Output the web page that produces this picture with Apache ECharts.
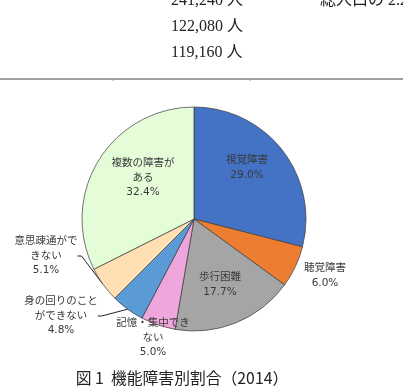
<!DOCTYPE html>
<html><head><meta charset="utf-8">
<style>html,body{margin:0;padding:0;background:#fff;}#c{width:403px;height:386px;}</style>
<script src="https://cdn.jsdelivr.net/npm/echarts@6/dist/echarts.min.js"></script>
</head><body><div id="c"></div>
<script>
// ---- data ----
const categories = ['視覚障害','聴覚障害','歩行困難','記憶・集中できない','身の回りのことができない','意思疎通ができない','複数の障害がある'];
const labelNames = ['視覚障害','聴覚障害','歩行困難','記憶・集中でき\nない','身の回りのこと\nができない','意思疎通がで\nきない','複数の障害が\nある'];
const shares = [29.0, 6.0, 17.7, 5.0, 4.8, 5.1, 32.4];
const tableCounts = ['241,240 人','122,080 人','119,160 人'];
const tableNote = '総人口の 2.2%';
const caption = '図 1  機能障害別割合（2014）';

// ---- styling / layout ----
const colors = ['#4472C4','#ED7D31','#A5A5A5','#EFA6DD','#5B9BD5','#FFE0B3','#E5FCD9'];
const labelPos = [[247,168],[325,276],[220,285],[153,338],[61,316],[46,256],[143,178]];
const outside = [false,true,false,true,true,true,false];
const showLine = [false,false,false,false,true,true,false];

const chart = echarts.init(document.getElementById('c'));
const data = categories.map((n,i)=>({
  name:n, value:shares[i],
  itemStyle:{color:colors[i]},
  label:{position: outside[i]?'outside':'inside', formatter: labelNames[i]+'\n'+shares[i].toFixed(1)+'%'},
  labelLine:{show:showLine[i]}
}));
const serif = '"Liberation Serif","Times New Roman","Noto Sans CJK JP",serif';
chart.setOption({
  animation:false,
  series:[{
    type:'pie', center:[194,219], radius:112, startAngle:90, clockwise:true,
    data:data,
    itemStyle:{borderColor:'#3a3a3a',borderWidth:0.7},
    label:{show:true,fontSize:10.5,lineHeight:14.5,color:'#3a3a3a',fontFamily:'"DejaVu Sans","Noto Sans CJK JP",sans-serif',align:'center'},
    labelLine:{length:6,length2:4,lineStyle:{color:'#222',width:1}},
    labelLayout:function(p){ const q=labelPos[p.dataIndex]; return {x:q[0],y:q[1],align:'center',verticalAlign:'middle'}; },
    emphasis:{disabled:true}
  }],
  graphic:[
    ...tableCounts.map((t,i)=>({type:'text',left:171,top:-7+i*26,style:{text:t,font:'16px '+serif,fill:'#222'}})),
    {type:'text',left:320,top:-7,style:{text:tableNote,font:'16px '+serif,fill:'#222'}},
    {type:'line',shape:{x1:0,y1:79,x2:403,y2:79},style:{stroke:'#808080',lineWidth:1.5}},
    {type:'line',shape:{x1:113,y1:79,x2:113,y2:81},style:{stroke:'#999',lineWidth:1}},
    {type:'line',shape:{x1:250,y1:79,x2:250,y2:81},style:{stroke:'#999',lineWidth:1}},
    {type:'text',x:182,y:378,style:{text:caption,font:'15.8px "Noto Sans CJK JP",sans-serif',fill:'#222',align:'center',verticalAlign:'middle'}}
  ]
});
</script></body></html>
